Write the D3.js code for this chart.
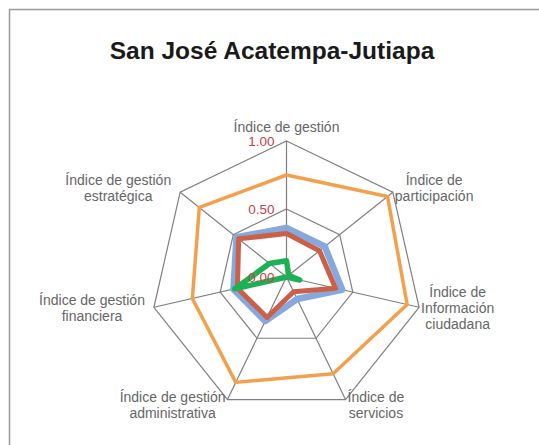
<!DOCTYPE html>
<html>
<head>
<meta charset="utf-8">
<script src="https://cdn.jsdelivr.net/npm/d3@7"></script>
<style>
body { margin: 0; background: #fff; }
</style>
</head>
<body>
<div id="chart"></div>
<script>
// chart values
const AXES = [
    ["Índice de gestión"],
    ["Índice de", "participación"],
    ["Índice de", "Información", "ciudadana"],
    ["Índice de", "servicios"],
    ["Índice de gestión", "administrativa"],
    ["Índice de gestión", "financiera"],
    ["Índice de gestión", "estratégica"]
];
const BLUE_VALUES = [0.36, 0.36, 0.42, 0.18, 0.36, 0.40, 0.47];
const RED_VALUES = [0.32, 0.31, 0.37, 0.12, 0.33, 0.37, 0.45];
const ORANGE_VALUES = [0.75, 0.95, 0.91, 0.79, 0.86, 0.71, 0.82];
const GREEN_VALUES = [0.12, 0.02, 0.10, 0.00, 0.00, 0.39, 0.16];
const TICKS = [0, 0.5, 1];
const TICK_LABELS = ["0.00", "0.50", "1.00"];
const TITLE = "San José Acatempa-Jutiapa";

// frame dimensions
const FRAME_WIDTH = 539;
const FRAME_HEIGHT = 445;
const CENTER = {x: 286.5, y: 277};
const RADIUS = 136;

const FRAME = d3.select("#chart")
    .append("svg")
        .attr("width", FRAME_WIDTH)
        .attr("height", FRAME_HEIGHT);

// outer border of the chart area
FRAME.append("rect")
    .attr("x", 9.5)
    .attr("y", 9.5)
    .attr("width", 600)
    .attr("height", 600)
    .attr("fill", "none")
    .attr("stroke", "#9a9a9a")
    .attr("stroke-width", 1.5);

FRAME.append("text")
    .attr("x", 272)
    .attr("y", 59)
    .attr("text-anchor", "middle")
    .attr("font-family", "Liberation Sans, Arial, sans-serif")
    .attr("font-weight", "bold")
    .attr("font-size", "24.5px")
    .attr("fill", "#1a1a1a")
    .text(TITLE);

const R_SCALE = d3.scaleLinear().domain([0, 1]).range([0, RADIUS]);
const ANGLE = (i) => i * 2 * Math.PI / AXES.length;

const G = FRAME.append("g")
    .attr("transform", "translate(" + CENTER.x + "," + CENTER.y + ")");

const radar = d3.lineRadial()
    .angle((d, i) => ANGLE(i))
    .radius((d) => R_SCALE(d))
    .curve(d3.curveLinearClosed);

// rings and spokes
TICKS.filter((t) => t > 0).forEach((t) => {
    G.append("path")
        .attr("d", radar(AXES.map(() => t)))
        .attr("fill", "none")
        .attr("stroke", "#7f7f7f")
        .attr("stroke-width", 1.2);
});

G.selectAll(".spoke")
    .data(AXES)
    .enter()
    .append("line")
        .attr("class", "spoke")
        .attr("x1", 0)
        .attr("y1", 0)
        .attr("x2", (d, i) => R_SCALE(1) * Math.sin(ANGLE(i)))
        .attr("y2", (d, i) => -R_SCALE(1) * Math.cos(ANGLE(i)))
        .attr("stroke", "#7f7f7f")
        .attr("stroke-width", 1.2);

// series lines
const SERIES = [
    {values: BLUE_VALUES, color: "#85a9dc", width: 6.5},
    {values: RED_VALUES, color: "#cc5f48", width: 5},
    {values: ORANGE_VALUES, color: "#f3a04c", width: 3.5},
    {values: GREEN_VALUES, color: "#1fb056", width: 5.5}
];

G.selectAll(".series")
    .data(SERIES)
    .enter()
    .append("path")
        .attr("class", "series")
        .attr("d", (d) => radar(d.values))
        .attr("fill", "none")
        .attr("stroke", (d) => d.color)
        .attr("stroke-width", (d) => d.width)
        .attr("stroke-linejoin", "round");

// tick labels
G.selectAll(".tick-label")
    .data(TICKS)
    .enter()
    .append("text")
        .attr("class", "tick-label")
        .attr("x", -12)
        .attr("y", (d) => -R_SCALE(d))
        .attr("dy", "0.35em")
        .attr("text-anchor", "end")
        .attr("font-family", "Liberation Sans, Arial, sans-serif")
        .attr("font-size", "13.5px")
        .attr("fill", "#c6404a")
        .text((d, i) => TICK_LABELS[i]);

// axis labels, placed next to the outer vertex
const LINE_H = 16;
AXES.forEach((lines, i) => {
    const a = ANGLE(i);
    const vx = R_SCALE(1) * Math.sin(a);
    const vy = -R_SCALE(1) * Math.cos(a);
    const label = G.append("text")
        .attr("font-family", "Liberation Sans, Arial, sans-serif")
        .attr("font-size", "14px")
        .attr("fill", "#666666")
        .attr("text-anchor", "middle");
    const spans = lines.map((t) => label.append("tspan").text(t));
    const w = d3.max(spans, (s) => s.node().getComputedTextLength());
    const h = lines.length * LINE_H;
    let cx, cy;
    if (Math.abs(Math.sin(a)) < 0.01) {
        cx = vx;
        cy = vy - 6 - h / 2;
    } else {
        const gap = Math.sin(a) > 0 ? 2 : (Math.abs(Math.sin(a)) > 0.6 ? 9 : 2);
        cx = Math.sin(a) > 0 ? vx + gap + w / 2 : vx - gap - w / 2;
        cy = vy - 6 * Math.cos(a);
    }
    spans.forEach((s, j) => {
        s.attr("x", cx)
         .attr("y", cy + (j - (lines.length - 1) / 2) * LINE_H)
         .attr("dy", "0.35em");
    });
});
</script>
</body>
</html>
